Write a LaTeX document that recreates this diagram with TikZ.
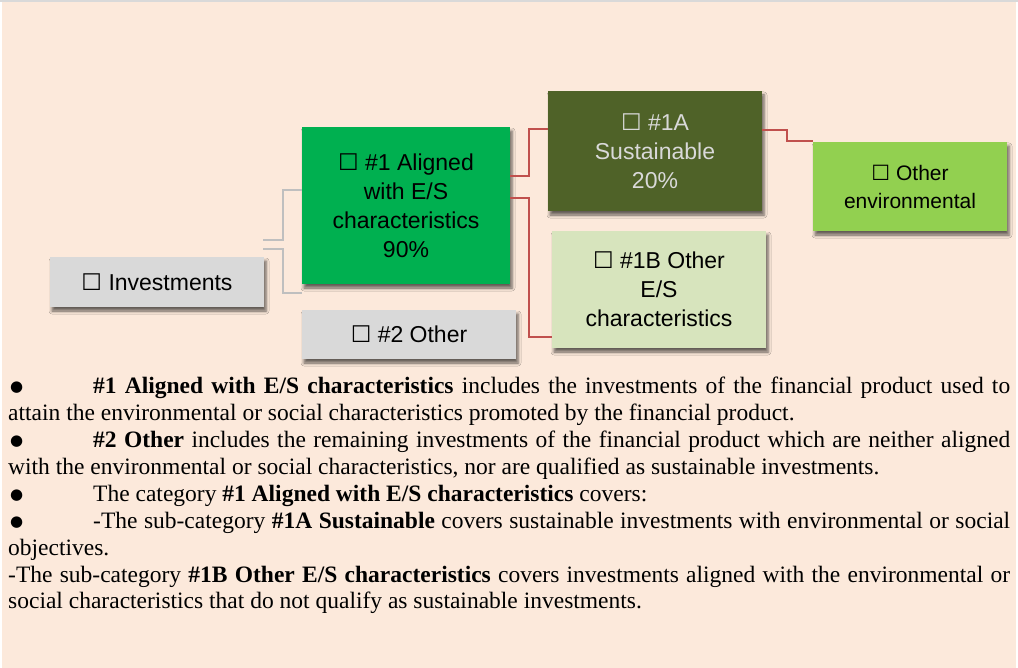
\documentclass[tikz,border=0pt]{standalone}
\usepackage{fontspec}
\setmainfont{Liberation Serif}
\newfontfamily\boxfont{Liberation Sans}
\newfontfamily\symfont{DejaVu Sans}
\usetikzlibrary{shadows.blur}
\definecolor{bgpeach}{HTML}{FCE9DB}
\definecolor{topgray}{HTML}{D9D9D9}
\definecolor{boxgray}{HTML}{D9D9D9}
\definecolor{boxgreen}{HTML}{00B050}
\definecolor{boxolive}{HTML}{4F6228}
\definecolor{boxpale}{HTML}{D7E4BD}
\definecolor{boxlime}{HTML}{92D050}
\definecolor{linered}{HTML}{C0504D}
\definecolor{linegray}{HTML}{BFBFBF}
\newcommand{\bx}{{\symfont ☐}}
\newcommand{\bul}{\makebox[85pt][l]{\hspace{2pt}\raisebox{2pt}{\symfont\fontsize{15}{15}\selectfont ●}}}
\tikzset{
  catbox/.style={draw=none, inner sep=0pt, align=center,
    font=\boxfont\fontsize{23}{29}\selectfont,
    blur shadow={shadow xshift=2pt, shadow yshift=-4pt, shadow blur radius=3pt, shadow opacity=60}},
  redline/.style={draw=linered, line width=1.5pt},
  grayline/.style={draw=linegray, line width=1.5pt},
}
\begin{document}
\begin{tikzpicture}[x=1pt,y=-1pt]
\useasboundingbox (0,0) rectangle (1018,668);
\fill[white] (0,0) rectangle (1018,668);
\fill[bgpeach] (2,2) rectangle (1016,668);
\fill[topgray] (0,0) rectangle (1018,2);

\node[catbox, fill=boxgray, minimum width=214pt, minimum height=50pt] (inv) at (157,282) {\bx{} Investments};
\node[catbox, fill=boxgreen, minimum width=208pt, minimum height=157pt] (a1) at (406,205.5) {\bx{} \#1 Aligned\\with E/S\\characteristics\\90\%};
\node[catbox, fill=boxgray, minimum width=214pt, minimum height=49pt] (o2) at (409,334.5) {\bx{} \#2 Other};
\node[catbox, fill=boxolive, text=boxgray, minimum width=214pt, minimum height=120pt] (s1a) at (655,151) {\bx{} \#1A\\Sustainable\\20\%};
\node[catbox, fill=boxpale, minimum width=214pt, minimum height=117pt] (s1b) at (659,289.5) {\bx{} \#1B Other\\E/S\\characteristics};
\node[catbox, fill=boxlime, minimum width=194pt, minimum height=89pt, font=\boxfont\fontsize{21}{28}\selectfont] (oe) at (910,186.5) {\bx{} Other\\environmental};

\coordinate (g1) at (263,240);
\coordinate (g2) at (263,249);
\draw[grayline] (g1) -- ++(20,0) |- ([yshift=15.5pt]a1.west);
\draw[grayline] (g2) -- ++(20,0) |- ([yshift=-87.5pt]a1.west);
\draw[redline] ([yshift=29.5pt]a1.east) -- ++(19,0) |- ([yshift=22pt]s1a.west);
\draw[redline] ([yshift=7.5pt]a1.east) -- ++(19,0) |- ([yshift=-47.5pt]s1b.west);
\draw[redline] ([yshift=21pt]s1a.east) -- ++(25,0) |- ([yshift=1pt]oe.north west);

\node[anchor=north west, inner sep=0pt, text width=1002pt, align=justify,
  font=\fontsize{23.5}{26.9}\selectfont] (txt) at (8,377) {%
\bul\textbf{\#1 Aligned with E/S characteristics} includes the investments of the financial product used to\linebreak attain the environmental or social characteristics promoted by the financial product.\par
\bul\textbf{\#2 Other} includes the remaining investments of the financial product which are neither aligned\linebreak with the environmental or social characteristics, nor are qualified as sustainable investments.\par
\bul The category \textbf{\#1 Aligned with E/S characteristics} covers:\par
\bul -The sub-category \textbf{\#1A Sustainable} covers sustainable investments with environmental or social\linebreak objectives.\par
-The sub-category \textbf{\#1B Other E/S characteristics} covers investments aligned with the environmental or\linebreak social characteristics that do not qualify as sustainable investments.\par};
\end{tikzpicture}
\end{document}
